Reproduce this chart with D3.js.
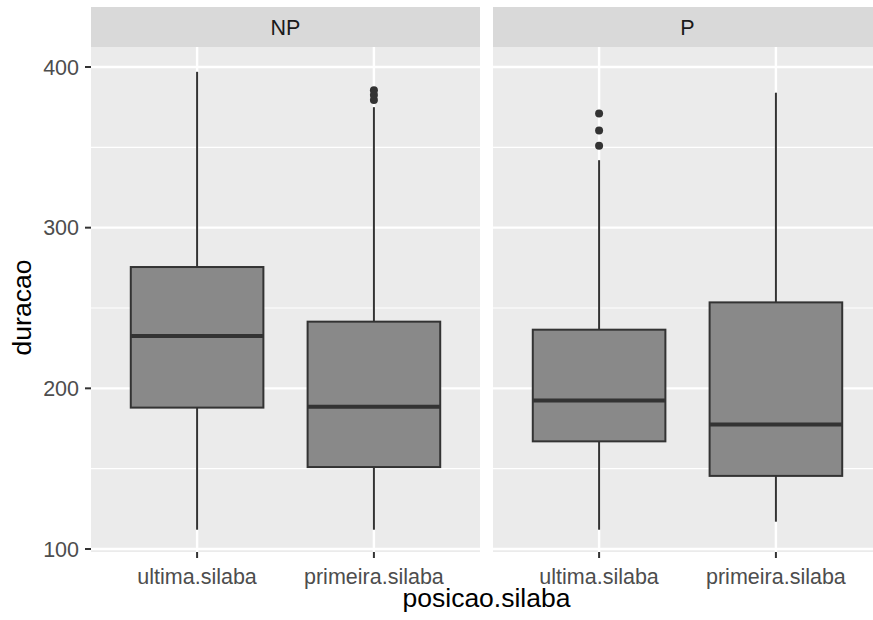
<!DOCTYPE html>
<html>
<head>
<meta charset="utf-8">
<script src="https://cdn.jsdelivr.net/npm/d3@7"></script>
<style>
  body { margin: 0; background: #fff; }
  svg { display: block; font-family: "Liberation Sans", Arial, sans-serif; }
</style>
</head>
<body>
<svg id="chart" width="873" height="620"></svg>
<script>
// Facets and categories
const facets = ["NP", "P"];
const categories = ["ultima.silaba", "primeira.silaba"];

// Five-number summaries per facet and category: [lowWhisker, q1, median, q3, highWhisker]
const statsNP = [
  [112, 188, 232.5, 275.5, 397],
  [112, 151, 188.5, 241.5, 375]
];
const statsP = [
  [112, 167, 192.5, 236.5, 342],
  [117, 145.5, 177.5, 253.5, 384]
];
// Outliers per facet and category
const outliersNP = [[], [379.5, 382.5, 385.5]];
const outliersP = [[351, 360.5, 371], []];

const yTicks = [100, 200, 300, 400];
const yMinor = [150, 250, 350];

const svg = d3.select("#chart");

const panelTop = 47, panelBottom = 552;
const stripTop = 7;
const panelWidth = 389;
const panelLefts = [91, 493];
const tickFont = 21.5, titleFont = 26.5;

const y = d3.scaleLinear().domain([100, 400]).range([549, 67]);

const statsAll = [statsNP, statsP];
const outAll = [outliersNP, outliersP];

facets.forEach((f, fi) => {
  const left = panelLefts[fi];
  // two bands with 0.6-step outer margins, as a discrete ggplot axis expands
  const x = d3.scaleBand().domain(categories)
    .range([left, left + panelWidth]).paddingOuter(0.1).paddingInner(0);
  const g = svg.append("g");

  // panel background
  g.append("rect").attr("x", left).attr("y", panelTop)
    .attr("width", panelWidth).attr("height", panelBottom - panelTop)
    .attr("fill", "#EBEBEB");

  // strip
  g.append("rect").attr("x", left).attr("y", stripTop)
    .attr("width", panelWidth).attr("height", panelTop - stripTop)
    .attr("fill", "#D9D9D9");
  g.append("text").attr("x", left + panelWidth / 2).attr("y", 35)
    .attr("text-anchor", "middle").attr("font-size", tickFont).attr("fill", "#1A1A1A")
    .text(f);

  // minor grid
  g.selectAll(".ymin").data(yMinor).join("line")
    .attr("x1", left).attr("x2", left + panelWidth)
    .attr("y1", d => y(d)).attr("y2", d => y(d))
    .attr("stroke", "#fff").attr("stroke-width", 1.2);
  // major grid
  g.selectAll(".ymaj").data(yTicks).join("line")
    .attr("x1", left).attr("x2", left + panelWidth)
    .attr("y1", d => y(d)).attr("y2", d => y(d))
    .attr("stroke", "#fff").attr("stroke-width", 2.4);
  g.selectAll(".xmaj").data(categories).join("line")
    .attr("x1", d => x(d) + x.bandwidth() / 2).attr("x2", d => x(d) + x.bandwidth() / 2)
    .attr("y1", panelTop).attr("y2", panelBottom)
    .attr("stroke", "#fff").attr("stroke-width", 2.4);

  const bw = x.bandwidth() * 0.75;
  categories.forEach((c, ci) => {
    const s = statsAll[fi][ci];
    const cx = x(c) + x.bandwidth() / 2;
    // whiskers
    g.append("line").attr("x1", cx).attr("x2", cx)
      .attr("y1", y(s[3])).attr("y2", y(s[4]))
      .attr("stroke", "#333").attr("stroke-width", 2);
    g.append("line").attr("x1", cx).attr("x2", cx)
      .attr("y1", y(s[1])).attr("y2", y(s[0]))
      .attr("stroke", "#333").attr("stroke-width", 2);
    // box
    g.append("rect").attr("x", cx - bw / 2).attr("y", y(s[3]))
      .attr("width", bw).attr("height", y(s[1]) - y(s[3]))
      .attr("fill", "#898989").attr("stroke", "#333").attr("stroke-width", 2);
    // median
    g.append("line").attr("x1", cx - bw / 2).attr("x2", cx + bw / 2)
      .attr("y1", y(s[2])).attr("y2", y(s[2]))
      .attr("stroke", "#333").attr("stroke-width", 4);
    // outliers
    g.selectAll(null).data(outAll[fi][ci]).join("circle")
      .attr("cx", cx).attr("cy", d => y(d)).attr("r", 4)
      .attr("fill", "#333");
  });

  // x axis ticks and labels
  const xAxis = g.append("g");
  categories.forEach(c => {
    const cx = x(c) + x.bandwidth() / 2;
    xAxis.append("line").attr("x1", cx).attr("x2", cx)
      .attr("y1", panelBottom).attr("y2", panelBottom + 6)
      .attr("stroke", "#333").attr("stroke-width", 2);
    xAxis.append("text").attr("x", cx).attr("y", 584)
      .attr("text-anchor", "middle").attr("font-size", tickFont).attr("fill", "#4D4D4D")
      .text(c);
  });
});

// y axis (left panel only)
const yAxis = svg.append("g");
yTicks.forEach(t => {
  yAxis.append("line").attr("x1", 85).attr("x2", 91)
    .attr("y1", y(t)).attr("y2", y(t))
    .attr("stroke", "#333").attr("stroke-width", 2);
  yAxis.append("text").attr("x", 79).attr("y", y(t) + 7.5)
    .attr("text-anchor", "end").attr("font-size", tickFont).attr("fill", "#4D4D4D")
    .text(t);
});

// axis titles
svg.append("text").attr("x", 486.5).attr("y", 607)
  .attr("text-anchor", "middle").attr("font-size", titleFont).attr("fill", "#000")
  .text("posicao.silaba");
svg.append("text")
  .attr("transform", `translate(31, ${(panelTop + panelBottom) / 2 + 8}) rotate(-90)`)
  .attr("text-anchor", "middle").attr("font-size", titleFont).attr("fill", "#000")
  .text("duracao");
</script>
</body>
</html>
